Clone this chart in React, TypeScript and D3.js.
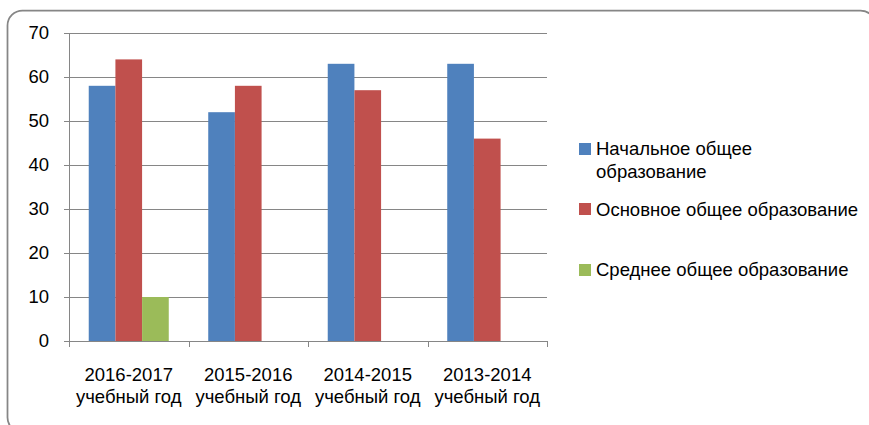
import React from 'react';
import * as d3 from 'd3';

const width = 869;
const height = 425;

// categories on the x axis (two lines each)
const years = ['2016-2017', '2015-2016', '2014-2015', '2013-2014'];
const yearSuffix = 'учебный год';

const seriesNames = [
  'Начальное общее образование',
  'Основное общее образование',
  'Среднее общее образование',
];
const seriesColors = ['#4F81BD', '#C0504D', '#9BBB59'];

const primaryValues = [58, 52, 63, 63];
const basicValues = [64, 58, 57, 46];
const secondaryValues: (number | null)[] = [10, null, null, null];

const yTicks = [0, 10, 20, 30, 40, 50, 60, 70];

const fontFamily = '"Liberation Sans", Arial, sans-serif';
const fs = 18.5;

export default function App() {
  const margin = { left: 69, right: 547, top: 33, bottom: 341 };

  const x = d3.scaleBand<string>()
    .domain(years)
    .range([margin.left, margin.right])
    .padding(0);

  const xInner = d3.scaleBand<string>()
    .domain(seriesNames)
    .range([0, x.bandwidth()])
    .paddingInner(0)
    .paddingOuter(0.74);

  const y = d3.scaleLinear()
    .domain([0, 70])
    .range([margin.bottom, margin.top]);

  const allSeries = [primaryValues, basicValues, secondaryValues];

  // x ticks sit on the category boundaries
  const boundaries = years.map(d => x(d)!).concat([margin.right]);

  // legend rows: square top + first text baseline
  const legendRows = [
    { sq: 143, lines: ['Начальное общее', 'образование'], base: 155 },
    { sq: 203, lines: ['Основное общее образование'], base: 216 },
    { sq: 264, lines: ['Среднее общее образование'], base: 276 },
  ];

  return (
    <svg
      width={width}
      height={height}
      style={{ position: 'absolute', left: 0, top: 0, display: 'block' }}
      fontFamily={fontFamily}
    >
      <rect x={0} y={0} width={width} height={height} fill="#fff" />
      <rect x={7.5} y={10.5} width={868} height={422} rx={15} ry={15}
        fill="none" stroke="#868686" strokeWidth={1.75} />

      {/* gridlines + y ticks */}
      {yTicks.map(t => (
        <g key={t}>
          <line x1={margin.left - 5} x2={margin.right} y1={Math.round(y(t)) + 0.5} y2={Math.round(y(t)) + 0.5}
            stroke="#868686" strokeWidth={1} />
          <text x={49} y={y(t)} dy="0.35em" textAnchor="end" fontSize={fs} fill="#000">{t}</text>
        </g>
      ))}

      {/* bars */}
      {allSeries.map((vals, si) => (
        <g key={si} fill={seriesColors[si]}>
          {vals.map((v, i) => v == null ? null : (
            <rect key={i}
              x={x(years[i])! + xInner(seriesNames[si])!}
              y={y(v)}
              width={xInner.bandwidth()}
              height={y(0) - y(v)} />
          ))}
        </g>
      ))}

      {/* y axis */}
      <line x1={margin.left + 0.5} x2={margin.left + 0.5} y1={margin.top} y2={margin.bottom}
        stroke="#868686" strokeWidth={1} />
      {/* x axis */}
      <line x1={margin.left} x2={margin.right} y1={margin.bottom + 0.5} y2={margin.bottom + 0.5}
        stroke="#868686" strokeWidth={1} />
      {boundaries.map((b, i) => (
        <line key={i} x1={Math.round(b) + 0.5} x2={Math.round(b) + 0.5} y1={margin.bottom} y2={margin.bottom + 6}
          stroke="#868686" strokeWidth={1} />
      ))}

      {/* category labels */}
      {years.map(yr => (
        <text key={yr} x={x(yr)! + x.bandwidth() / 2} textAnchor="middle" fontSize={fs} fill="#000">
          <tspan x={x(yr)! + x.bandwidth() / 2} y={381}>{yr}</tspan>
          <tspan x={x(yr)! + x.bandwidth() / 2} y={403}>{yearSuffix}</tspan>
        </text>
      ))}

      {/* legend */}
      {legendRows.map((r, i) => (
        <g key={i}>
          <rect x={579} y={r.sq} width={12} height={12} fill={seriesColors[i]} />
          <text fontSize={fs} fill="#000">
            {r.lines.map((l, j) => (
              <tspan key={j} x={596} y={r.base + j * 23}>{l}</tspan>
            ))}
          </text>
        </g>
      ))}
    </svg>
  );
}
